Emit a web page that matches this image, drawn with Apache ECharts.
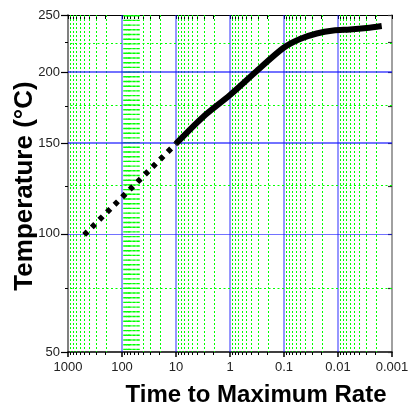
<!DOCTYPE html>
<html>
<head>
<meta charset="utf-8">
<title>Time to Maximum Rate</title>
<script src="https://cdn.jsdelivr.net/npm/echarts@6/dist/echarts.min.js"></script>
<style>
    html, body { margin: 0; padding: 0; background: #fff; }
    #main { width: 408px; height: 407px; }
</style>
</head>
<body>
<div id="main"></div>
<script>
    // measured curve: time to maximum rate vs temperature (degC)
    var curveTime = [10, 3.12, 1.0, 0.32, 0.103, 0.0506, 0.0248, 0.0122, 0.0060, 0.00294, 0.00155];
    var curveTemp = [150, 167.7, 183.0, 201.2, 220.1, 227.9, 232.8, 235.5, 236.4, 237.8, 239.6];
    // extrapolated part, dotted
    var extraTime = [600, 10];
    var extraTemp = [97.5, 150];

    var timeTicks = [1000, 100, 10, 1, 0.1, 0.01, 0.001];
    var timeLabels = ['1000', '100', '10', '1', '0.1', '0.01', '0.001'];
    var timeMinorSteps = [2, 3, 4, 5, 6, 7, 8, 9];
    var tempTicks = [50, 100, 150, 200, 250];
    var tempMinor = [75, 125, 175, 225];

    // x is log10 of time, y is the arrhenius scale 1000/T(K)
    function lg(t) { return Math.log10(t); }
    function inv(T) { return 1000 / (T + 273.15); }

    var xMajor = timeTicks.map(lg);
    var xMinor = [];
    timeTicks.slice(1).forEach(function (d) {
        timeMinorSteps.forEach(function (k) { xMinor.push(lg(k * d)); });
    });
    var yMajor = tempTicks.map(inv);
    var yMinor = tempMinor.map(inv);

    var blue = 'rgba(20,20,255,0.6)';
    var green = '#00ff00';

    var gridLines = [];
    timeTicks.slice(1, -1).forEach(function (t) {
        gridLines.push({xAxis: lg(t), lineStyle: {color: blue, width: 1.5, type: 'solid'}});
    });
    timeTicks.slice(1).forEach(function (d) {
        timeMinorSteps.forEach(function (k) {
            // the 50..90 lines of the 100-10 decade come out as a solid band
            var band = d === 10 && k >= 5;
            gridLines.push({
                xAxis: lg(k * d),
                lineStyle: {color: green, width: band ? 3.5 : 1, type: band ? [1.4, 3.3] : [2, 2]}
            });
        });
    });
    tempTicks.slice(1, -1).forEach(function (T) {
        gridLines.push({yAxis: inv(T), lineStyle: {color: blue, width: T === 100 ? 1.2 : 2, type: 'solid'}});
    });
    tempMinor.forEach(function (T) {
        gridLines.push({yAxis: inv(T), lineStyle: {color: green, width: 1, type: [2, 2.5]}});
    });

    var font = 'Liberation Sans, Arial, sans-serif';
    var xBase = {
        type: 'value', min: -3, max: 3, inverse: true,
        axisLine: {show: false, onZero: false},
        axisLabel: {show: false},
        axisTick: {show: false},
        splitLine: {show: false}
    };
    var yBase = {
        type: 'value', min: inv(250), max: inv(50), inverse: true,
        axisLine: {show: false, onZero: false},
        axisLabel: {show: false},
        axisTick: {show: false},
        splitLine: {show: false}
    };

    var myChart = echarts.init(document.getElementById('main'));
    var option = {
        animation: false,
        grid: {left: 68, right: 16, top: 15, bottom: 55, containLabel: false, outerBoundsMode: 'none'},
        xAxis: [
            Object.assign({}, xBase, {
                position: 'bottom',
                axisLine: {show: true, onZero: false, lineStyle: {color: '#000', width: 1.5}},
                axisTick: {show: true, customValues: xMajor, length: 5, lineStyle: {color: '#000', width: 1.5}},
                axisLabel: {
                    show: true, customValues: xMajor, margin: 9,
                    fontSize: 13, fontFamily: font, color: '#222',
                    formatter: function (v) {
                        var i = xMajor.findIndex(function (m) { return Math.abs(m - v) < 1e-6; });
                        return i < 0 ? '' : timeLabels[i];
                    }
                },
                name: 'Time to Maximum Rate',
                nameLocation: 'middle',
                nameGap: 31.5,
                nameTextStyle: {fontSize: 24, fontWeight: 'bold', fontFamily: font, color: '#000', padding: [0, 0, 0, 52]}
            }),
            Object.assign({}, xBase, {
                position: 'bottom',
                axisTick: {show: true, customValues: xMinor, length: 3, lineStyle: {color: '#000'}}
            }),
            Object.assign({}, xBase, {
                position: 'top',
                axisLine: {show: true, onZero: false, lineStyle: {color: '#000', width: 1}},
                axisTick: {show: true, inside: true, customValues: xMinor.concat(xMajor), length: 4, lineStyle: {color: '#000'}}
            })
        ],
        yAxis: [
            Object.assign({}, yBase, {
                position: 'left',
                axisLine: {show: true, onZero: false, lineStyle: {color: '#808080', width: 2}},
                axisTick: {show: true, customValues: yMajor, length: 7, lineStyle: {color: '#000', width: 1.2}},
                axisLabel: {
                    show: true, customValues: yMajor, margin: 8,
                    fontSize: 13, fontFamily: font, color: '#222',
                    formatter: function (v) { return String(Math.round(1000 / v - 273.15)); }
                },
                name: 'Temperature (°C)',
                nameLocation: 'middle',
                nameGap: 30,
                nameMoveOverlap: false,
                nameTextStyle: {fontSize: 26, fontWeight: 'bold', fontFamily: font, color: '#000', padding: [0, 5, 0, 0]}
            }),
            Object.assign({}, yBase, {
                position: 'left',
                axisTick: {show: true, customValues: yMinor, length: 3, lineStyle: {color: '#000'}}
            }),
            Object.assign({}, yBase, {
                position: 'right',
                axisLine: {show: true, onZero: false, lineStyle: {color: '#808080', width: 1.5}},
                axisTick: {show: true, inside: true, customValues: yMajor.concat(yMinor), length: 4, lineStyle: {color: '#333', width: 1.2}}
            })
        ],
        series: [
            {
                name: 'grid',
                type: 'line',
                data: [],
                silent: true,
                markLine: {
                    silent: true,
                    z: 1,
                    symbol: 'none',
                    label: {show: false},
                    emphasis: {disabled: true},
                    data: gridLines
                }
            },
            {
                name: 'extrapolated',
                type: 'line',
                z: 10,
                symbol: 'none',
                data: extraTime.map(function (t, i) { return [lg(t), inv(extraTemp[i])]; }),
                lineStyle: {color: '#000', width: 5.5, type: [4.8, 5.9], dashOffset: 4.8}
            },
            {
                name: 'TMR',
                type: 'line',
                z: 11,
                symbol: 'none',
                smooth: 0.3,
                data: curveTime.map(function (t, i) { return [lg(t), inv(curveTemp[i])]; }),
                lineStyle: {color: '#000', width: 6}
            }
        ]
    };
    myChart.setOption(option);
</script>
</body>
</html>
